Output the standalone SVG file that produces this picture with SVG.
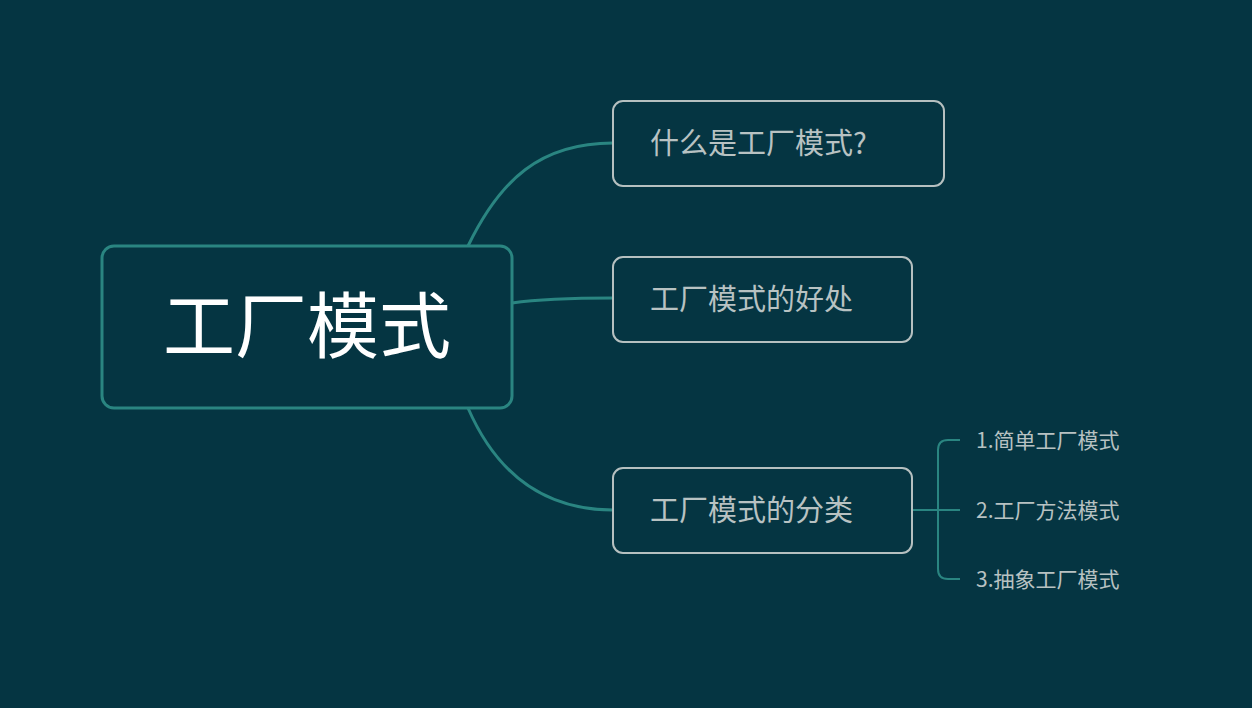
<svg xmlns="http://www.w3.org/2000/svg" width="1252" height="708" viewBox="0 0 1252 708">
<style>
.t{font-family:"Noto Sans CJK SC","Noto Sans",sans-serif;fill:#b8c2c2}
.box{fill:#053542;stroke:#b6c0c0;stroke-width:2}
.c{fill:none;stroke:#2a8581;stroke-width:3}
.s{fill:none;stroke:#2a8581;stroke-width:2}
</style>
<rect width="1252" height="708" fill="#053542"/>
<g id="connectors">
<path class="c" d="M468,246 C500,180 540,143 613,143"/>
<path class="c" d="M512,303 C540,299 570,298 613,298"/>
<path class="c" d="M468,408 C495,470 540,510 613,510"/>
<path class="s" d="M912,510 H938"/>
<path class="s" d="M960,440 H948 Q938,440 938,450 V569 Q938,579 948,579 H960"/>
<path class="s" d="M938,510 H960"/>
</g>
<g id="root">
<rect x="102" y="246" width="410" height="162" rx="12" fill="#053542" stroke="#2a8581" stroke-width="3"/>
<text x="307" y="352" font-size="72" text-anchor="middle" font-family="Noto Sans CJK SC,sans-serif" fill="#ffffff">工厂模式</text>
</g>
<g id="n1"><rect class="box" x="613" y="101" width="331" height="85" rx="10"/><text class="t" x="650" y="154" font-size="29">什么是工厂模式?</text></g>
<g id="n2"><rect class="box" x="613" y="257" width="299" height="85" rx="10"/><text class="t" x="650" y="310" font-size="29">工厂模式的好处</text></g>
<g id="n3"><rect class="box" x="613" y="468" width="299" height="85" rx="10"/><text class="t" x="650" y="521" font-size="29">工厂模式的分类</text></g>
<g id="s1"><text class="t" x="976" y="448" font-size="21">1.简单工厂模式</text></g>
<g id="s2"><text class="t" x="976" y="518" font-size="21">2.工厂方法模式</text></g>
<g id="s3"><text class="t" x="976" y="587" font-size="21">3.抽象工厂模式</text></g>
</svg>
